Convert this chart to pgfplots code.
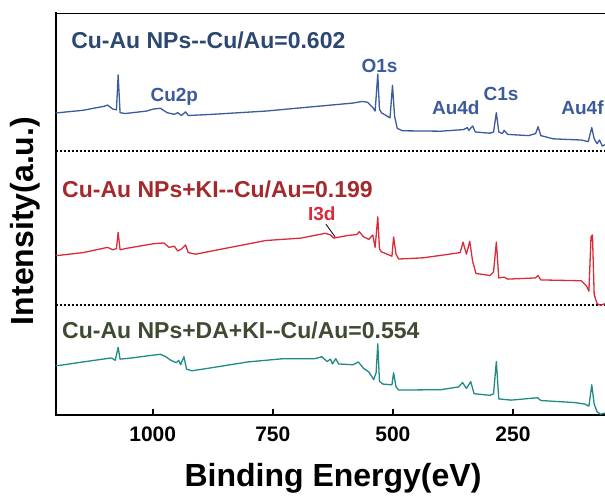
\documentclass[border=0pt]{standalone}
\usepackage{pgfplots}
\pgfplotsset{compat=1.18}
\usepackage{fontspec}
\setmainfont{Liberation Sans}
\definecolor{tblue}{HTML}{3B5B9A}
\definecolor{hblue}{HTML}{2C4770}
\definecolor{tred}{HTML}{D92B3A}
\definecolor{hred}{HTML}{A5282C}
\definecolor{tteal}{HTML}{1F8A86}
\definecolor{hgreen}{HTML}{3E4A32}
\begin{document}
\begin{tikzpicture}
\path[use as bounding box] (0,0) rectangle (605pt,499pt);
\begin{axis}[
  at={(55.7pt,84pt)}, anchor=south west,
  scale only axis, width=549.3pt, height=402pt,
  x dir=reverse, xmin=58.5, xmax=1202, ymin=0, ymax=100,
  axis x line*=bottom, axis y line*=left,
  axis line style={-, line width=1.8pt, line cap=rect},
  xtick={250,500,750,1000}, ytick=\empty,
  tick align=inside, major tick length=6pt,
  tick style={line width=1.6pt, black},
  /pgf/number format/assume math mode=true,
  /pgf/number format/1000 sep={},
  xticklabel style={font=\fontsize{21}{21}\selectfont\bfseries, yshift=-8pt},
  xlabel={Binding Energy(eV)},
  ylabel={Intensity(a.u.)},
  xlabel style={font=\fontsize{32}{32}\selectfont\bfseries, at={(axis description cs:0.5048,-0.1567)}, anchor=center},
  ylabel style={font=\fontsize{32}{32}\selectfont\bfseries, at={(axis description cs:-0.0559,0.4826)}, anchor=center},
  clip=true,
]
\draw[line width=1.8pt, line cap=rect] (rel axis cs:0,1) -- (rel axis cs:1,1);
\addplot[black, line width=2pt, dash pattern=on 2.2pt off 1.8pt] coordinates {(1202,65.7) (58.5,65.7)};
\addplot[black, line width=2pt, dash pattern=on 2.2pt off 1.8pt] coordinates {(1202,27.4) (58.5,27.4)};
% blue
\addplot[tblue, line width=1.3pt, line join=round] coordinates {
(1202,75.2) (1196,75.2) (1145,75.8) (1101,76.8) (1094,77.1) (1083,76.1) (1075.5,75.9) (1072,84.6) (1068,75.2) (1057,75.0) (1013,75.6) (998.8,76.1) (984,76.3) (970,75.2) (955,74.8) (948,75.2) (940.4,74.5) (931.7,75.4) (926,74.5) (875,74.8) (765,75.6) (656,76.8) (583,77.6) (564,78.0) (553,77.8) (542,76.5) (537,75.6) (531.5,84.8) (528,76.1) (524,75.2) (506,73.9) (500.9,82.0) (496.5,74.3) (491,71.3) (480,70.7) (400,70.6) (353,71.0) (345,71.5) (342,70.8) (334,71.9) (328.5,70.4) (298,70.1) (290.5,70.4) (284.7,75.2) (279.6,70.4) (272,70.0) (268.6,70.8) (261,69.8) (217.5,69.5) (203,70.0) (197.8,71.7) (192,69.5) (166.4,68.7) (108,68.4) (93.4,68.0) (86.1,71.5) (81,68.7) (75,67.5) (70,68.4) (64,66.9) (58,67.3)};
% red
\addplot[tred, line width=1.3pt, line join=round] coordinates {
(1202,39.7) (1196,39.7) (1145,40.4) (1094,41.7) (1083,41.1) (1075.5,41.4) (1072,45.4) (1068,41.1) (1057,41.4) (999,42.6) (977,42.8) (966,41.7) (955,42.0) (948,40.8) (940,41.3) (931.7,42.3) (926,40.4) (911,40.0) (838,41.7) (765,43.4) (692,44.0) (641,45.2) (630,44.8) (623,44.0) (597,44.6) (575,44.9) (570,45.6) (561,44.3) (550,43.7) (542,44.8) (537,41.7) (531.5,49.3) (528,41.3) (524,40.6) (502,39.5) (498.6,44.3) (493.5,40.0) (488,38.8) (437,39.1) (371,40.2) (360,40.4) (354,43.0) (347,40.0) (340,43.2) (334,38.2) (327,35.2) (298,34.7) (290.5,35.6) (284.7,43.0) (279.6,34.1) (268.6,34.3) (261,33.8) (203,34.1) (198,34.7) (192,33.6) (108,33.4) (97,32.1) (92,30.8) (87.6,44.3) (84.6,44.8) (81,29.9) (75,27.7) (68,27.3) (58,27.7)};
% teal
\addplot[tteal, line width=1.3pt, line join=round] coordinates {
(1202,12.3) (1196,12.3) (1145,13.2) (1086,14.2) (1078,13.6) (1072,16.8) (1068,13.9) (1043,14.2) (999,14.9) (984,15.1) (973,14.5) (962,13.6) (951,13.0) (946,13.6) (942,12.5) (935,14.5) (929.5,11.4) (918.5,11.0) (875,11.8) (802,13.2) (729,14.0) (663,14.0) (648,14.5) (637,13.3) (630,13.9) (626,12.7) (619,14.0) (613,12.7) (583,12.5) (572,13.2) (561,11.6) (550,10.7) (540,8.8) (535,10.5) (531.5,17.7) (528,8.4) (521,7.7) (502,7.5) (498.6,10.5) (493.5,7.0) (488,6.2) (400,6.3) (363,7.0) (355,8.1) (347,6.6) (338,8.3) (331,5.3) (298,4.9) (290.5,5.3) (284.7,13.3) (279.6,4.0) (254,3.7) (199,4.3) (192,3.6) (122,3.1) (100,2.7) (92,2.2) (86,7.5) (81,2.7) (75,0.8) (68,0.2) (58,0.5)};
% titles
\node[anchor=west, inner sep=0pt, text=hblue, font=\fontsize{23}{23}\selectfont\bfseries] at (axis cs:1170,93.3) {Cu-Au NPs-{}-Cu/Au=0.602};
\node[anchor=west, inner sep=0pt, text=hred, font=\fontsize{23}{23}\selectfont\bfseries] at (axis cs:1188.8,56.0) {Cu-Au NPs+KI-{}-Cu/Au=0.199};
\node[anchor=west, inner sep=0pt, text=hgreen, font=\fontsize{23}{23}\selectfont\bfseries] at (axis cs:1188.8,21.1) {Cu-Au NPs+DA+KI-{}-Cu/Au=0.554};
% peak labels
\node[inner sep=0pt, text=tblue, font=\fontsize{19}{19}\selectfont\bfseries] at (axis cs:528,86.8) {O1s};
\node[inner sep=0pt, text=tblue, font=\fontsize{19}{19}\selectfont\bfseries] at (axis cs:955,79.1) {Cu2p};
\node[inner sep=0pt, text=tblue, font=\fontsize{19}{19}\selectfont\bfseries] at (axis cs:369,76.4) {Au4d};
\node[inner sep=0pt, text=tblue, font=\fontsize{19}{19}\selectfont\bfseries] at (axis cs:275,79.9) {C1s};
\node[anchor=east, inner sep=0pt, text=tblue, font=\fontsize{19}{19}\selectfont\bfseries] at (axis cs:61,76.4) {Au4f};
\node[inner sep=0pt, text=tred, font=\fontsize{19}{19}\selectfont\bfseries] at (axis cs:648,50.0) {I3d};
\draw[black, line width=0.8pt] (axis cs:639.6,47.5) -- (axis cs:620.3,44.3);
\end{axis}
\end{tikzpicture}
\end{document}
